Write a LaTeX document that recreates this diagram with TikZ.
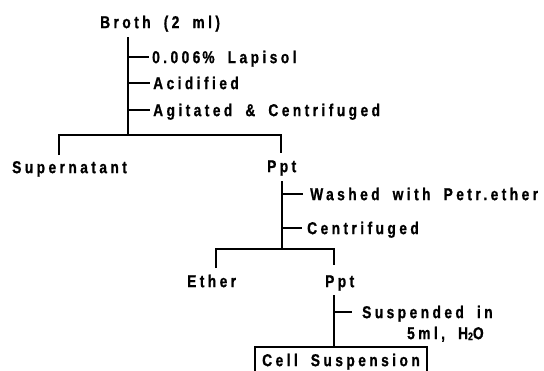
\documentclass[tikz,border=0pt]{standalone}
\usepackage{fontspec}
\setmainfont{Liberation Sans Bold}[FakeStretch=0.8, LetterSpace=20, WordSpace=1.8, FakeBold=0.9]
\begin{document}
\begin{tikzpicture}[x=1pt,y=-1pt,
  ln/.style={line width=1.4pt},
  txt/.style={inner sep=0pt, anchor=west, text height=12.3pt, text depth=0pt,
     font=\fontsize{17.2}{19}\selectfont},
  boxnode/.style={draw, line width=1.4pt, inner sep=0pt, minimum width=172pt, minimum height=26pt,
     text height=12.3pt, text depth=0pt, font=\fontsize{17.2}{19}\selectfont}]
\useasboundingbox (0,0) rectangle (544,370);
% texts
\node[txt] (b) at (100,22) {Broth (2 ml)};
\node[txt] (l1) at (152,57) {0.006\hspace{2pt}\% Lapisol};
\node[txt] (l2) at (153,83) {Acidified};
\node[txt] (l3) at (153,110) {Agitated \& Centrifuged};
\node[txt] (sup) at (12,167) {Supernatant};
\node[txt] (p1) at (267,166) {Ppt};
\node[txt] (l4) at (310,194) {Washed with Petr.ether};
\node[txt] (l5) at (307,228) {Centrifuged};
\node[txt] (eth) at (187,281) {Ether};
\node[txt] (p2) at (325,281) {Ppt};
\node[txt] (l6) at (362,312) {Suspended in};
\node[txt] (l7) at (407,333) {5ml, H{\fontsize{11}{11}\selectfont\raisebox{-1pt}{2}}O};
\node[boxnode] (cell) at (341,360) {Cell Suspension};
% stem 1
\coordinate (t1) at (128,37);
\coordinate (j1) at (128,135);
\coordinate (dL1) at (59,155);
\coordinate (dR1) at (281,153);
\draw[ln] (t1) -- (j1);
\draw[ln] (t1 |- l1.west) -- ([xshift=-3pt]l1.west);
\draw[ln] (t1 |- l2.west) -- ([xshift=-3pt]l2.west);
\draw[ln] (t1 |- l3.west) -- ([xshift=-3pt]l3.west);
\draw[ln] (dL1) |- (j1) -| (dR1);
% stem 2
\coordinate (t2) at (282,181);
\coordinate (j2) at (282,249);
\coordinate (dL2) at (216,268);
\coordinate (dR2) at (334,265);
\draw[ln] (t2) -- (j2);
\draw[ln] (t2 |- l4.west) -- ([xshift=-7pt]l4.west);
\draw[ln] (t2 |- l5.west) -- ([xshift=-5pt]l5.west);
\draw[ln] (dL2) |- (j2) -| (dR2);
% stem 3
\coordinate (t3) at (334,295);
\draw[ln] (t3) -- (t3 |- cell.north);
\draw[ln] (t3 |- l6.west) -- ([xshift=-10pt]l6.west);
\end{tikzpicture}
\end{document}
